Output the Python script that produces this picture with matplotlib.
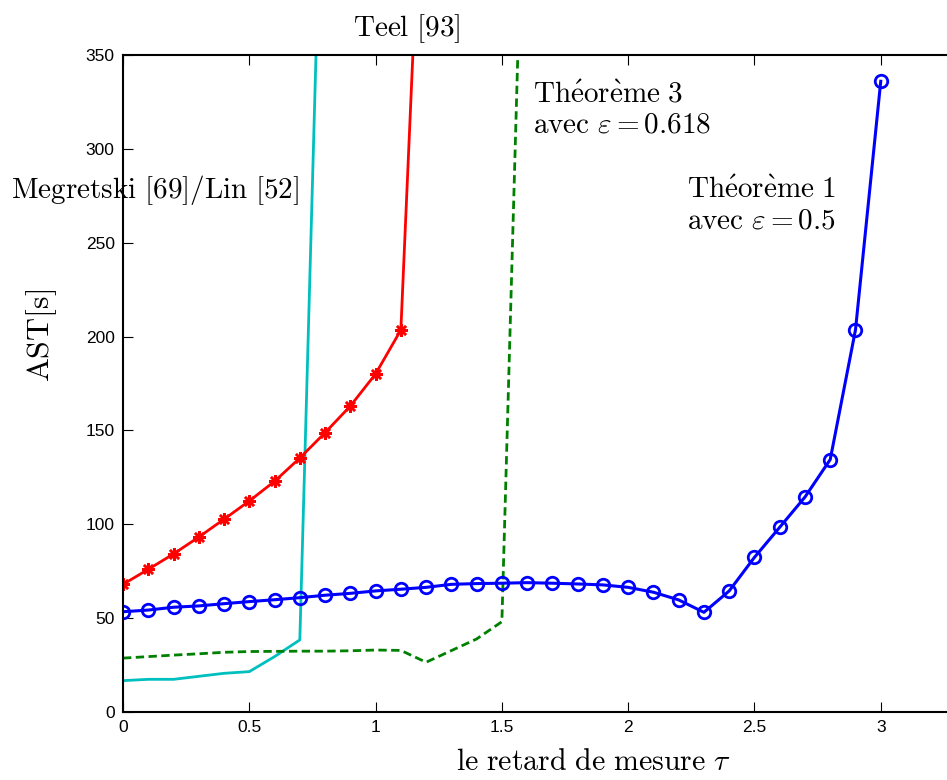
import matplotlib
matplotlib.use("Agg")
import matplotlib.pyplot as plt
import numpy as np

plt.rcParams["mathtext.fontset"] = "cm"
plt.rcParams["font.family"] = ["Liberation Sans", "DejaVu Sans"]

# ── data ─────────────────────────────────────────────
tau_thm1 = np.round(np.arange(0, 3.01, 0.1), 1)
ast_thm1 = [53.4, 54.3, 55.8, 56.5, 57.7, 58.8, 59.8, 60.9, 62.2, 63.2,
            64.5, 65.4, 66.4, 68.0, 68.4, 68.6, 68.9, 68.6, 68.2, 67.7,
            66.4, 63.8, 59.7, 53.1, 64.5, 82.4, 98.4, 114.5, 134.5, 203.6,
            336.0]

tau_teel = [0, 0.1, 0.2, 0.3, 0.4, 0.5, 0.6, 0.7, 0.8, 0.9, 1.0, 1.1, 1.2]
ast_teel = [68.0, 76.0, 84.2, 93.2, 102.7, 112.4, 122.9, 135.3, 148.8, 163.0,
            180.1, 203.5, 512.0]

tau_meg = [0, 0.1, 0.2, 0.3, 0.4, 0.5, 0.6, 0.7, 0.8]
ast_meg = [16.7, 17.4, 17.4, 19.0, 20.6, 21.5, 29.5, 38.4, 525.0]

tau_thm3 = [0, 0.1, 0.2, 0.3, 0.4, 0.5, 0.6, 0.7, 0.8, 0.9, 1.0, 1.1, 1.2,
            1.3, 1.4, 1.5, 1.6]
ast_thm3 = [28.7, 29.5, 30.3, 31.0, 31.8, 32.2, 32.3, 32.4, 32.4, 32.6,
            33.0, 32.8, 26.5, 32.7, 38.9, 48.1, 527.0]

xtick_vals = [0, 0.5, 1, 1.5, 2, 2.5, 3, 3.5]
xtick_text = ["0", "0.5", "1", "1.5", "2", "2.5", "3", ""]

# ── plot ─────────────────────────────────────────────
fig = plt.figure(figsize=(9.47, 7.8), dpi=100)
ax = fig.add_axes([0.1299, 0.0872, 0.9335, 0.8423])

ax.plot(tau_meg, ast_meg, color="#00BFBF", linewidth=2.0)
ax.plot(tau_thm3, ast_thm3, color="#008000", linewidth=2.0, linestyle="--",
        dashes=(3, 1.6))
ax.plot(tau_teel, ast_teel, color="red", linewidth=2.0,
        marker=(8, 2, 0), markersize=9, markeredgewidth=1.8,
        markevery=list(range(len(tau_teel) - 1)))
ax.plot(tau_thm1, ast_thm1, color="blue", linewidth=2.2,
        marker="o", markersize=9, markerfacecolor="none", markeredgewidth=2.0)

ax.set_xlim(0, 3.5)
ax.set_ylim(0, 350)
ax.set_xticks(xtick_vals)
ax.set_xticklabels(xtick_text)
ax.set_yticks(np.arange(0, 351, 50))
ax.tick_params(direction="in", top=True, right=True, length=7, width=0.8,
               labelsize=12.5, pad=6)
for s in ax.spines.values():
    s.set_linewidth(1.5)

tsize = 21
ax.text(1.124, 364, r"$\mathrm{Teel\ [93]}$", fontsize=tsize,
        ha="center", va="center", clip_on=False)
ax.text(1.623, 329, r"$\mathrm{Th\acute{e}or\grave{e}me\ 3}$", fontsize=tsize,
        ha="left", va="center")
ax.text(1.623, 313, r"$\mathrm{avec}\ \varepsilon = 0.618$", fontsize=tsize,
        ha="left", va="center")
ax.text(-0.445, 278, r"$\mathrm{Megretski\ [69]/Lin\ [52]}$", fontsize=tsize,
        ha="left", va="center", clip_on=False)
ax.text(2.232, 278, r"$\mathrm{Th\acute{e}or\grave{e}me\ 1}$", fontsize=tsize,
        ha="left", va="center")
ax.text(2.232, 262, r"$\mathrm{avec}\ \varepsilon = 0.5$", fontsize=tsize,
        ha="left", va="center")

fig.text(42 / 947, 1 - 335 / 780, r"$\mathrm{AST[s]}$", fontsize=23,
         rotation=90, ha="center", va="center")
fig.text(593 / 947, 1 - 762 / 780, r"$\mathrm{le\ retard\ de\ mesure}\ \tau$",
         fontsize=21.5, ha="center", va="center")

fig.savefig("out.png", dpi=100)
